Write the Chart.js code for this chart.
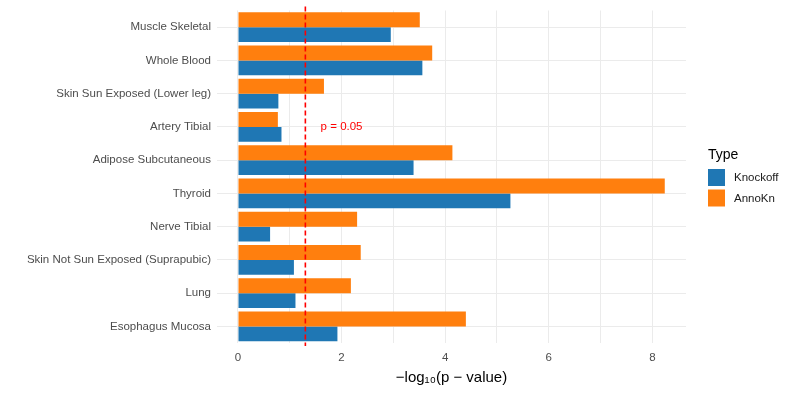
<!DOCTYPE html>
<html>
<head>
<meta charset="utf-8">
<script src="https://cdn.jsdelivr.net/npm/chart.js@4.4.0/dist/chart.umd.min.js"></script>
<style>
  html, body { margin: 0; padding: 0; background: #ffffff; }
</style>
</head>
<body>
<canvas id="tissueChart" width="793" height="397"></canvas>
<script>
// tissues, listed top to bottom as in the figure
var tissues = ["Muscle Skeletal", "Whole Blood", "Skin Sun Exposed (Lower leg)", "Artery Tibial",
    "Adipose Subcutaneous", "Thyroid", "Nerve Tibial", "Skin Not Sun Exposed (Suprapubic)",
    "Lung", "Esophagus Mucosa"];

// -log10(p-value) for each method
var knockoff = [2.95, 3.56, 0.78, 0.84, 3.39, 5.26, 0.62, 1.08, 1.11, 1.92];
var annokn = [3.51, 3.75, 1.66, 0.77, 4.14, 8.24, 2.30, 2.37, 2.18, 4.40];

// labelled ticks on the x axis
var xTickLabels = [0, 2, 4, 6, 8];

// significance cut-off
var pCut = 0.05;

var blue = '#1F77B4';
var orange = '#FF7F0E';
var fontFam = "'Liberation Sans', Arial, sans-serif";

// red dashed line at -log10(0.05) plus its label
var cutLine = {
    id: 'cutLine',
    afterDatasetsDraw: function (chart) {
        var ctx = chart.ctx;
        var x = chart.scales.x.getPixelForValue(-Math.log10(pCut));
        var area = chart.chartArea;
        ctx.save();
        ctx.strokeStyle = '#FF0000';
        ctx.lineWidth = 1.6;
        ctx.setLineDash([5, 3]);
        ctx.beginPath();
        ctx.moveTo(x, area.top - 4);
        ctx.lineTo(x, area.bottom + 3);
        ctx.stroke();
        ctx.setLineDash([]);
        ctx.fillStyle = '#FF0000';
        ctx.font = '11.5px ' + fontFam;
        ctx.textAlign = 'center';
        ctx.textBaseline = 'middle';
        ctx.fillText('p = ' + pCut, chart.scales.x.getPixelForValue(2.0), chart.scales.y.getPixelForValue(3));
        ctx.restore();
    }
};

// ggplot style legend on the right
var sideLegend = {
    id: 'sideLegend',
    afterDraw: function (chart) {
        var ctx = chart.ctx;
        var sets = chart.data.datasets.slice().reverse();
        var x0 = 708, y0 = 169;
        ctx.save();
        ctx.fillStyle = '#000000';
        ctx.font = '14px ' + fontFam;
        ctx.textBaseline = 'middle';
        ctx.fillText('Type', x0, 155);
        ctx.font = '11.5px ' + fontFam;
        for (var i = 0; i < sets.length; i++) {
            ctx.fillStyle = sets[i].backgroundColor;
            ctx.fillRect(x0, y0 + i * 20.5, 17, 17);
            ctx.fillStyle = '#1a1a1a';
            ctx.fillText(sets[i].label, x0 + 26, y0 + i * 20.5 + 9);
        }
        ctx.restore();
    }
};

var ctx = document.getElementById('tissueChart').getContext('2d');
var chart = new Chart(ctx, {
    type: 'bar',
    data: {
        labels: tissues,
        datasets: [{
            label: 'AnnoKn',
            data: annokn,
            backgroundColor: orange,
            borderWidth: 0,
            categoryPercentage: 0.9,
            barPercentage: 1.0
        }, {
            label: 'Knockoff',
            data: knockoff,
            backgroundColor: blue,
            borderWidth: 0,
            categoryPercentage: 0.9,
            barPercentage: 1.0
        }]
    },
    options: {
        indexAxis: 'y',
        responsive: false,
        animation: false,
        layout: {
            padding: { top: 10.5, right: 107, bottom: 0, left: 0 }
        },
        plugins: {
            legend: { display: false },
            tooltip: { enabled: false }
        },
        scales: {
            x: {
                type: 'linear',
                min: -0.405,
                max: 8.65,
                afterFit: function (scale) { scale.height = 54; },
                border: { display: false },
                grid: { color: '#EBEBEB', lineWidth: 1, drawTicks: false },
                ticks: {
                    stepSize: 1,
                    includeBounds: false,
                    padding: 8,
                    color: '#4D4D4D',
                    font: { family: fontFam, size: 11.5 },
                    maxRotation: 0,
                    autoSkip: false,
                    callback: function (v) {
                        return xTickLabels.indexOf(v) >= 0 ? String(v) : '';
                    }
                },
                title: {
                    display: true,
                    text: '\u2212log\u2081\u2080(p \u2212 value)',
                    color: '#000000',
                    font: { family: fontFam, size: 15 },
                    padding: { top: 0, bottom: 10 }
                }
            },
            y: {
                afterFit: function (scale) {
                    scale.width = 217;
                    // let the layout padding alone decide the top/bottom of the plot
                    scale.paddingTop = 0;
                    scale.paddingBottom = 0;
                },
                border: { display: false },
                grid: { color: '#EBEBEB', lineWidth: 1, offset: false, drawTicks: false },
                ticks: {
                    padding: 6,
                    color: '#4D4D4D',
                    font: { family: fontFam, size: 11.5 },
                    autoSkip: false
                }
            }
        }
    },
    plugins: [cutLine, sideLegend]
});
</script>
</body>
</html>
